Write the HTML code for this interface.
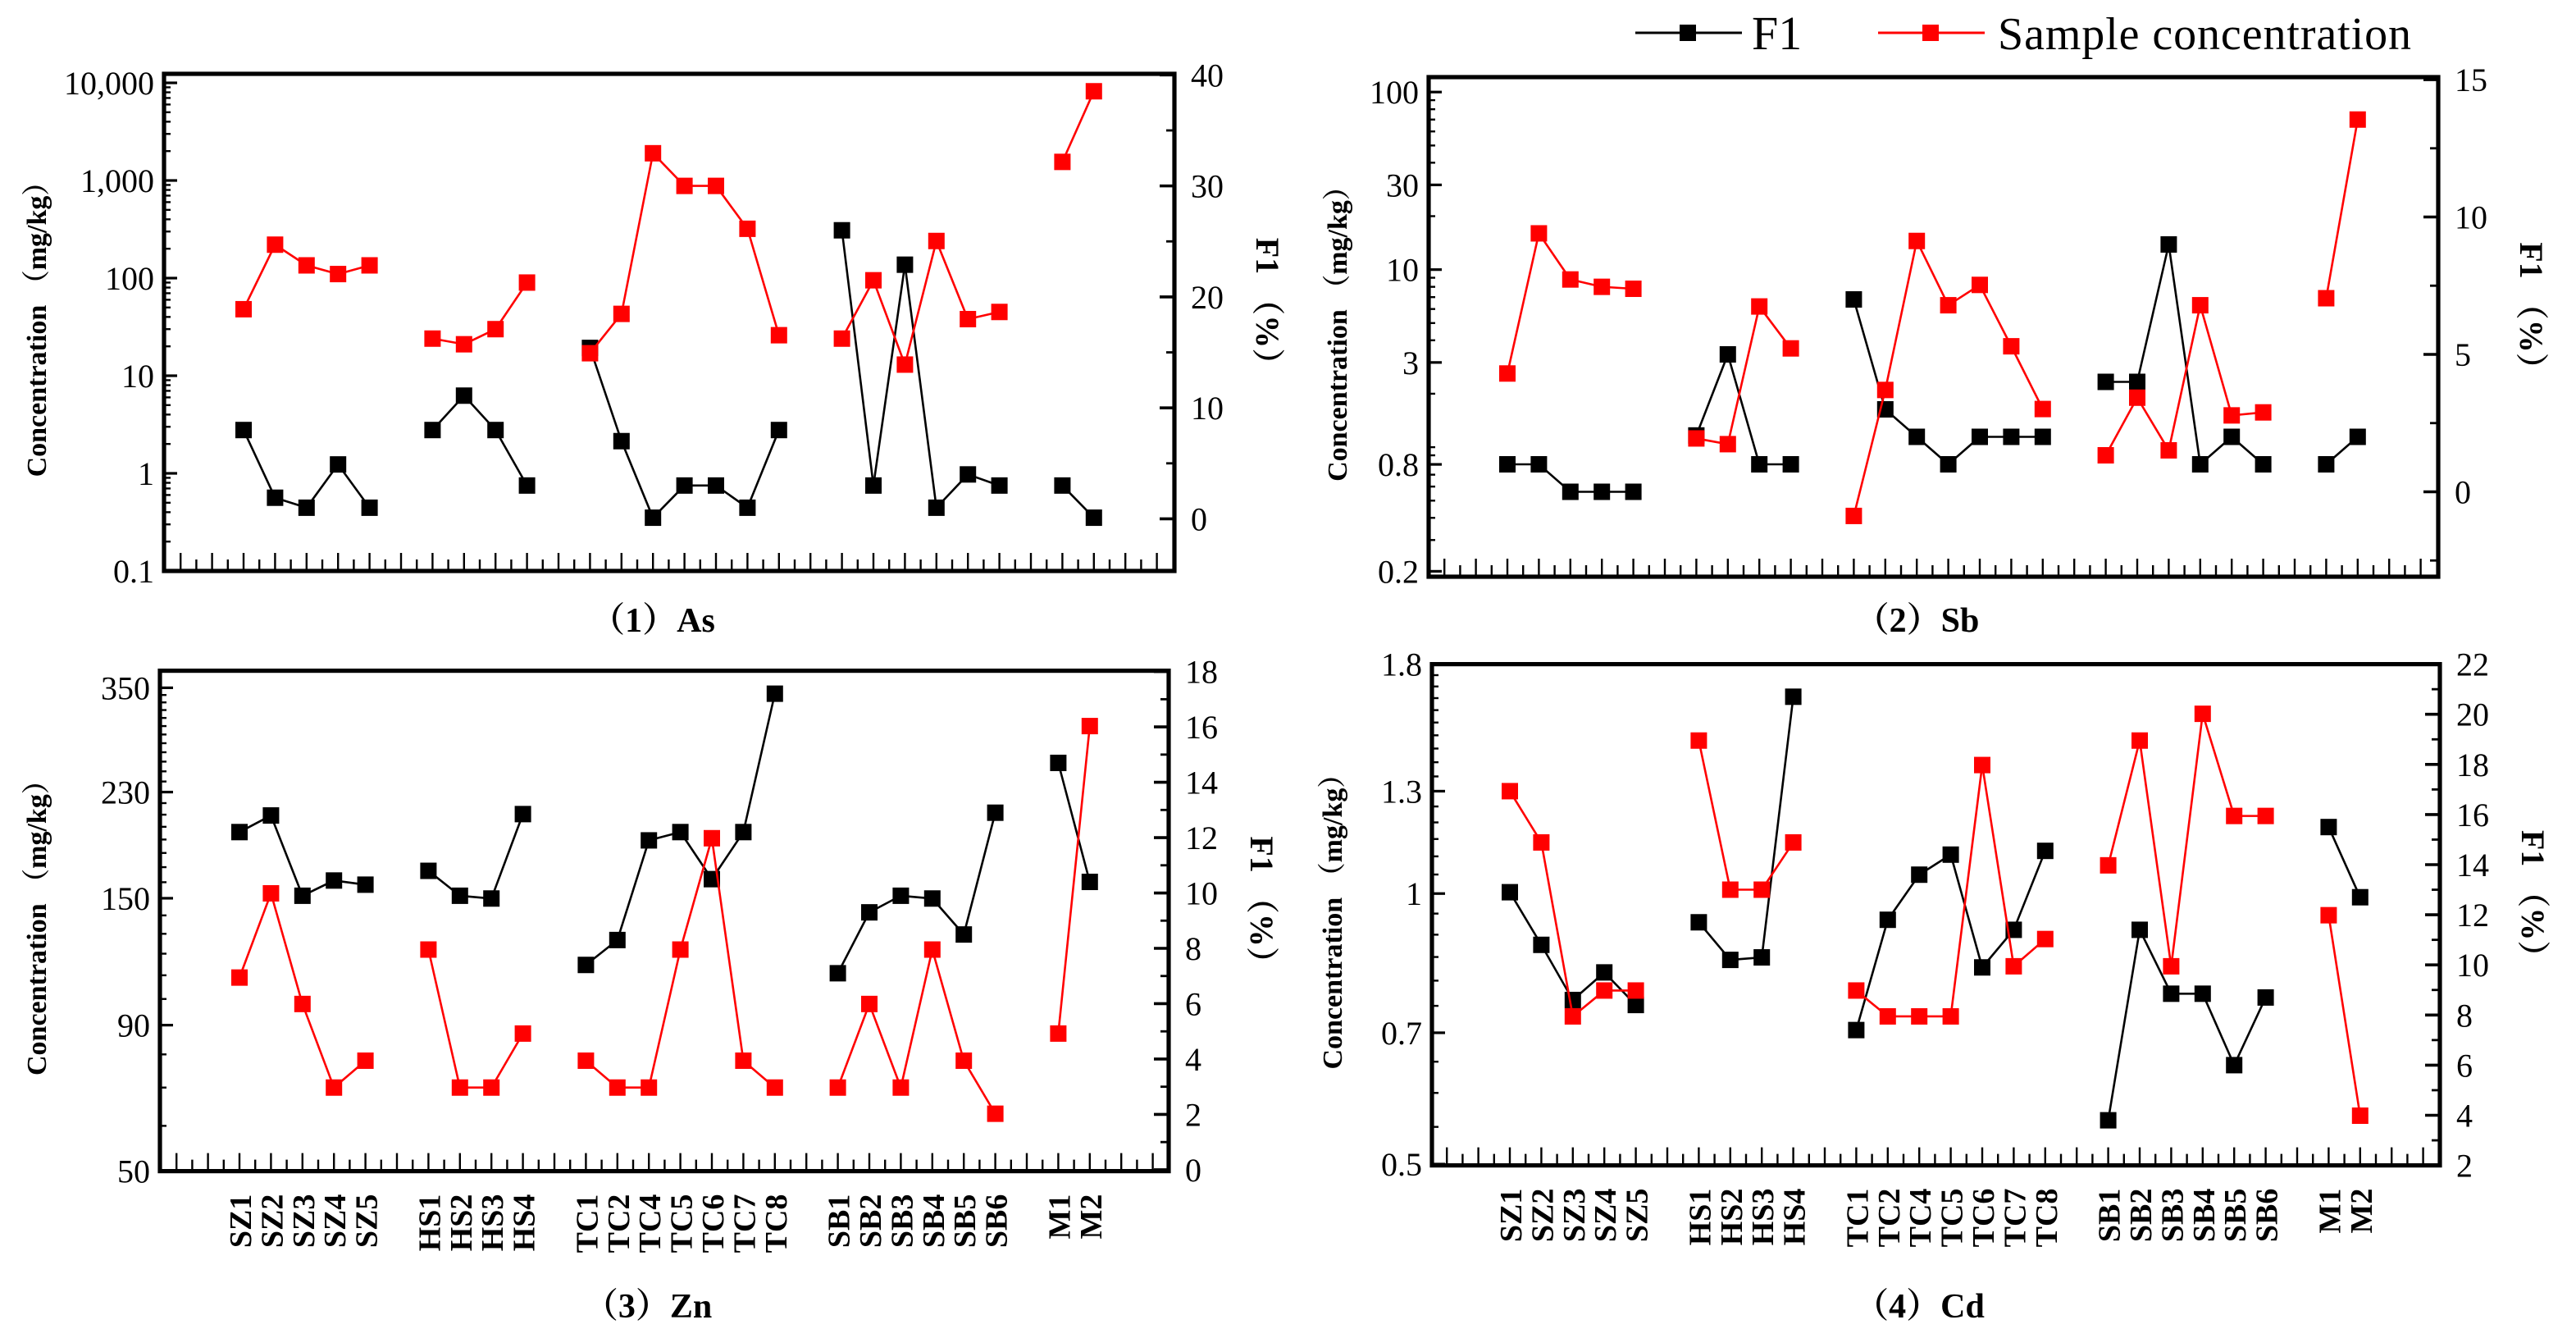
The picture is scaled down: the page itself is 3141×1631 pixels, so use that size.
<!DOCTYPE html>
<html><head><meta charset="utf-8"><style>
html,body{margin:0;padding:0;background:#fff;}
svg{display:block;}
text{font-family:"Liberation Serif","Noto Serif CJK SC",serif;fill:#000;}
</style></head><body>
<svg id="fig" xmlns="http://www.w3.org/2000/svg" width="3141" height="1631" viewBox="0 0 1570.5 815.5">
<rect x="0" y="0" width="1570.5" height="815.5" fill="#fff"/>
<g>
 <g>
  <line x1="997" y1="20" x2="1062" y2="20" stroke="#000" stroke-width="1.5"/>
  <rect x="1024" y="15" width="10" height="10" fill="#000"/>
  <text x="1068" y="30" font-size="29">F1</text>
 </g>
 <g>
  <line x1="1145" y1="20" x2="1210" y2="20" stroke="#f00" stroke-width="1.5"/>
  <rect x="1172" y="15" width="10" height="10" fill="#f00"/>
  <text x="1218" y="30" font-size="28" textLength="252">Sample concentration</text>
 </g>
</g>
</svg>
<script>
const categories=["SZ1","SZ2","SZ3","SZ4","SZ5","HS1","HS2","HS3","HS4","TC1","TC2","TC4","TC5","TC6","TC7","TC8","SB1","SB2","SB3","SB4","SB5","SB6","M1","M2"];
const groupOf=[0,0,0,0,0,1,1,1,1,2,2,2,2,2,2,2,3,3,3,3,3,3,4,4];
const asConc=[48,220,135,110,135,24,21,30,90,17,43,1900,880,880,320,26,24,95,13,240,38,45,1550,8200];
const asF1=[8.0,1.9,1.0,4.9,1.0,8.0,11.1,8.0,3.0,15.4,7.0,0.1,3.0,3.0,1.0,8.0,26.0,3.0,22.9,1.0,4.0,3.0,3.0,0.1];
const sbConc=[2.6,16,8.8,8.0,7.8,1.12,1.04,6.2,3.6,0.41,2.1,14.5,6.3,8.2,3.7,1.64,0.9,1.9,0.96,6.3,1.51,1.57,6.9,70];
const sbF1=[1.0,1.0,0.0,0.0,0.0,2.05,5.0,1.0,1.0,7.0,3.0,2.0,1.0,2.0,2.0,2.0,4.0,4.0,9.0,1.0,2.0,1.0,1.0,2.0];
const znConc=[109,153,98,70,78,122,70,70,87,78,70,70,122,191,78,70,70,98,70,122,78,63,87,300];
const znF1=[12.2,12.8,9.9,10.45,10.3,10.8,9.9,9.8,12.85,7.4,8.3,11.9,12.2,10.5,12.2,17.2,7.1,9.3,9.9,9.8,8.5,12.9,14.7,10.4];
const cdConc=[1.30,1.14,0.73,0.78,0.78,1.48,1.01,1.01,1.14,0.78,0.73,0.73,0.73,1.39,0.83,0.89,1.075,1.48,0.83,1.585,1.22,1.22,0.946,0.566];
const cdF1=[12.9,10.8,8.6,9.7,8.4,11.7,10.2,10.3,20.7,7.4,11.8,13.6,14.4,9.9,11.4,14.55,3.8,11.4,8.85,8.85,6.0,8.7,15.5,12.7];
const asLeftTicks=["0.1","1","10","100","1,000","10,000"];
const asLeftVals=[0.1,1,10,100,1000,10000];
const sbLeftTicks=["0.2","0.8","3","10","30","100"];
const sbLeftVals=[0.2,0.8,3,10,30,100];
const znLeftTicks=["50","90","150","230","350"];
const znLeftVals=[50,90,150,230,350];
const cdLeftTicks=["0.5","0.7","1","1.3","1.8"];
const cdLeftVals=[0.5,0.7,1,1.3,1.8];
const asRightTicks=[0,10,20,30,40];
const sbRightTicks=[0,5,10,15];
const znRightTicks=[0,2,4,6,8,10,12,14,16,18];
const cdRightTicks=[2,4,6,8,10,12,14,16,18,20,22];

const NS="http://www.w3.org/2000/svg";
const svg=document.getElementById('fig');
function mk(tag,attrs,parent){const e=document.createElementNS(NS,tag);for(const k in attrs)e.setAttribute(k,attrs[k]);(parent||svg).appendChild(e);return e;}

const panels=[
 {key:"as",title:"（1）As",conc:asConc,f1:asF1,L:100,R:716,T:45,B:348,s0:148.5,
  logMin:-1,logMax:Math.log10(10000),yMax:50.5,yMin:348,rMin:-4.7,rMax:40.1,
  lt:asLeftTicks,lv:asLeftVals,rt:asRightTicks,rminor:5,minor:[0.1,10000],titleY:385,labels:false,ltx:28},
 {key:"sb",title:"（2）Sb",conc:sbConc,f1:sbF1,L:871,R:1486.5,T:47,B:351.5,s0:919,
  logMin:Math.log10(0.2),logMax:2,yMax:56.1,yMin:348.2,rMin:-3.09,rMax:15.09,
  lt:sbLeftTicks,lv:sbLeftVals,rt:sbRightTicks,rminor:2.5,minor:[0.2,100],titleY:385,labels:false,ltx:821},
 {key:"zn",title:"（3）Zn",conc:znConc,f1:znF1,L:97.5,R:712.5,T:408.8,B:713.8,s0:146,
  logMin:Math.log10(50),logMax:Math.log10(350),yMax:419.2,yMin:713.8,rMin:-0.05,rMax:18.03,
  lt:znLeftTicks,lv:znLeftVals,rt:znRightTicks,rminor:1,minorLin:10,minor:[50,350],titleY:803,labels:true,ltx:28},
 {key:"cd",title:"（4）Cd",conc:cdConc,f1:cdF1,L:873,R:1487.5,T:404.8,B:710.3,s0:920.5,
  logMin:Math.log10(0.5),logMax:Math.log10(1.8),yMax:404.8,yMin:709.5,rMin:2,rMax:22,
  lt:cdLeftTicks,lv:cdLeftVals,rt:cdRightTicks,rminor:1,minorLin:0.05,minor:[0.5,1.8],titleY:803,labels:true,ltx:818}
];
const SW=19.2;

panels.forEach(p=>{
 const g=mk('g',{});
 
 
 const xOf=i=>p.s0+(i+groupOf[i])*SW;
 const yL=v=>p.yMin-(Math.log10(v)-p.logMin)/(p.logMax-p.logMin)*(p.yMin-p.yMax);
 const yR=v=>p.B-(v-p.rMin)/(p.rMax-p.rMin)*(p.B-p.T);
 const fr=mk('rect',{x:p.L,y:p.T,width:p.R-p.L,height:p.B-p.T,fill:"none",stroke:"#000","stroke-width":2.6},g);
 
 
 const la=mk('g',{},g);
 
 
 let vals=[];
 if(p.minorLin){for(let v=p.minor[0];v<=p.minor[1]+1e-9;v+=p.minorLin)vals.push(v);}
 else{for(let d=-2;d<=5;d++)for(let m=1;m<10;m++){const v=m*Math.pow(10,d);if(v>=p.minor[0]-1e-9&&v<=p.minor[1]+1e-9)vals.push(v);}}
 vals.forEach(v=>{const y=yL(v);mk('line',{x1:p.L,x2:p.L+4,y1:y,y2:y,stroke:"#000","stroke-width":1.2},la);});
 p.lv.forEach((v,k)=>{const y=yL(v);
  mk('line',{x1:p.L,x2:p.L+8,y1:y,y2:y,stroke:"#000","stroke-width":1.6},la);
  const t=mk('text',{x:p.L-6,y:y+7,"font-size":20,"text-anchor":"end"},la);t.textContent=p.lt[k];
  
  });
 const ra=mk('g',{},g);
 
 
 for(let v=Math.ceil(p.rMin/p.rminor)*p.rminor;v<=p.rMax+1e-9;v+=p.rminor){const y=yR(v);
  mk('line',{x1:p.R-5,x2:p.R,y1:y,y2:y,stroke:"#000","stroke-width":1.4},ra);}
 p.rt.forEach(v=>{const y=yR(v);
  mk('line',{x1:p.R-9,x2:p.R,y1:y,y2:y,stroke:"#000","stroke-width":1.8},ra);
  const t=mk('text',{x:p.R+10,y:y+7,"font-size":20},ra);t.textContent=String(v);
  
  });
 for(let s=-2.5;p.s0+s*SW<p.R-2;s+=0.5){const x=p.s0+s*SW;if(x<=p.L+2)continue;
  const long=Math.abs(s-Math.round(s))<1e-6;
  mk('line',{x1:x,x2:x,y1:p.B,y2:p.B-(long?11:7),stroke:"#000","stroke-width":1.2},g);}
 const cy=(p.T+p.B)/2;
 const at=mk('text',{x:0,y:0,"font-size":17,"font-weight":"bold","text-anchor":"middle",transform:`translate(${p.ltx},${cy}) rotate(-90)`},g);
 at.textContent="Concentration （mg/kg）";
 
 
 const rt=mk('text',{x:0,y:0,"font-size":20,"font-weight":"bold","text-anchor":"middle",transform:`translate(${p.R+50},${cy-8}) rotate(90)`},g);
 rt.textContent="F1 （%）";
 
 
 const tt=mk('text',{x:(p.L+p.R)/2-10,y:p.titleY,"font-size":21,"font-weight":"bold","text-anchor":"middle"},g);
 tt.textContent=p.title;
 
 
 if(p.labels){categories.forEach((c,i)=>{const x=xOf(i);
  const t=mk('text',{x:0,y:0,"font-size":19,"font-weight":"bold","text-anchor":"end",transform:`translate(${x+7},${p.B+14}) rotate(-90)`},g);
  t.textContent=c;
  
  });}
 function series(data,yf,color,name){
  const sg=mk('g',{},g);
  
  
  for(let i=1;i<data.length;i++){if(groupOf[i]!==groupOf[i-1])continue;
   mk('line',{x1:xOf(i-1),y1:yf(data[i-1]),x2:xOf(i),y2:yf(data[i]),stroke:color,"stroke-width":1.3},sg);}
  data.forEach((v,i)=>{const r=mk('rect',{x:xOf(i)-5,y:yf(v)-5,width:10,height:10,fill:color},sg);
   
   });
 }
 series(p.f1,yR,"#000","series-f1");
 series(p.conc,yL,"#f00","series-sample-concentration");
});
</script>
</body></html>
